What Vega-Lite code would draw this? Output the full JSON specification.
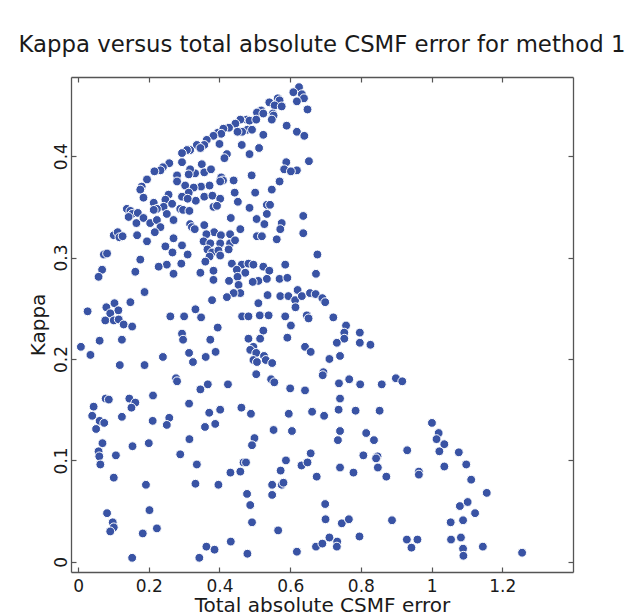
{
  "$schema": "https://vega.github.io/schema/vega-lite/v6.json",
  "width": 502,
  "height": 495,
  "autosize": {"type": "none"},
  "padding": {"left": 71, "top": 77, "right": 54, "bottom": 41},
  "background": "white",
  "title": {"text": "Kappa versus total absolute CSMF error for method 1", "fontSize": 22.8, "font": "DejaVu Sans", "fontWeight": "normal", "color": "#1a1a1a", "offset": 20},
  "datasets": {
    "pts": [
      {"e":0.625,"k":0.468},{"e":0.609,"k":0.463},{"e":0.633,"k":0.461},{"e":0.639,"k":0.457},{"e":0.619,"k":0.454},{"e":0.565,"k":0.457},{"e":0.570,"k":0.455},{"e":0.541,"k":0.453},{"e":0.556,"k":0.450},{"e":0.576,"k":0.449},{"e":0.649,"k":0.446},{"e":0.518,"k":0.445},{"e":0.506,"k":0.443},{"e":0.524,"k":0.442},{"e":0.551,"k":0.442},{"e":0.553,"k":0.440},{"e":0.548,"k":0.436},{"e":0.477,"k":0.436},{"e":0.459,"k":0.436},{"e":0.485,"k":0.435},{"e":0.504,"k":0.436},{"e":0.445,"k":0.432},{"e":0.427,"k":0.428},{"e":0.479,"k":0.426},{"e":0.492,"k":0.426},{"e":0.464,"k":0.424},{"e":0.451,"k":0.424},{"e":0.395,"k":0.423},{"e":0.411,"k":0.427},{"e":0.405,"k":0.422},{"e":0.383,"k":0.420},{"e":0.524,"k":0.421},{"e":0.590,"k":0.430},{"e":0.619,"k":0.424},{"e":0.640,"k":0.420},{"e":0.364,"k":0.416},{"e":0.400,"k":0.412},{"e":0.357,"k":0.411},{"e":0.336,"k":0.411},{"e":0.346,"k":0.408},{"e":0.463,"k":0.411},{"e":0.317,"k":0.406},{"e":0.308,"k":0.406},{"e":0.294,"k":0.403},{"e":0.512,"k":0.408},{"e":0.485,"k":0.402},{"e":0.421,"k":0.402},{"e":0.414,"k":0.398},{"e":0.653,"k":0.395},{"e":0.589,"k":0.394},{"e":0.583,"k":0.387},{"e":0.619,"k":0.386},{"e":0.602,"k":0.385},{"e":0.294,"k":0.394},{"e":0.258,"k":0.393},{"e":0.350,"k":0.392},{"e":0.331,"k":0.383},{"e":0.357,"k":0.384},{"e":0.376,"k":0.387},{"e":0.317,"k":0.387},{"e":0.313,"k":0.382},{"e":0.240,"k":0.389},{"e":0.233,"k":0.386},{"e":0.216,"k":0.385},{"e":0.570,"k":0.375},{"e":0.548,"k":0.367},{"e":0.405,"k":0.379},{"e":0.410,"k":0.376},{"e":0.402,"k":0.375},{"e":0.440,"k":0.376},{"e":0.491,"k":0.381},{"e":0.280,"k":0.381},{"e":0.303,"k":0.371},{"e":0.280,"k":0.375},{"e":0.195,"k":0.377},{"e":0.348,"k":0.370},{"e":0.327,"k":0.369},{"e":0.372,"k":0.371},{"e":0.180,"k":0.370},{"e":0.176,"k":0.367},{"e":0.185,"k":0.359},{"e":0.501,"k":0.364},{"e":0.443,"k":0.364},{"e":0.452,"k":0.355},{"e":0.313,"k":0.364},{"e":0.294,"k":0.360},{"e":0.256,"k":0.362},{"e":0.357,"k":0.360},{"e":0.380,"k":0.361},{"e":0.402,"k":0.358},{"e":0.383,"k":0.350},{"e":0.393,"k":0.351},{"e":0.333,"k":0.356},{"e":0.310,"k":0.358},{"e":0.485,"k":0.349},{"e":0.534,"k":0.352},{"e":0.543,"k":0.352},{"e":0.247,"k":0.357},{"e":0.242,"k":0.350},{"e":0.214,"k":0.354},{"e":0.223,"k":0.348},{"e":0.266,"k":0.353},{"e":0.289,"k":0.348},{"e":0.297,"k":0.347},{"e":0.315,"k":0.346},{"e":0.214,"k":0.347},{"e":0.138,"k":0.348},{"e":0.148,"k":0.346},{"e":0.153,"k":0.343},{"e":0.143,"k":0.340},{"e":0.169,"k":0.344},{"e":0.432,"k":0.339},{"e":0.534,"k":0.343},{"e":0.505,"k":0.338},{"e":0.637,"k":0.341},{"e":0.165,"k":0.334},{"e":0.185,"k":0.339},{"e":0.204,"k":0.334},{"e":0.223,"k":0.337},{"e":0.233,"k":0.330},{"e":0.251,"k":0.343},{"e":0.270,"k":0.337},{"e":0.317,"k":0.333},{"e":0.322,"k":0.330},{"e":0.357,"k":0.332},{"e":0.527,"k":0.333},{"e":0.576,"k":0.334},{"e":0.572,"k":0.328},
      {"e":0.101,"k":0.322},{"e":0.112,"k":0.325},{"e":0.117,"k":0.320},{"e":0.126,"k":0.321},
      {"e":0.167,"k":0.322},{"e":0.217,"k":0.325},{"e":0.459,"k":0.328},{"e":0.330,"k":0.328},{"e":0.637,"k":0.324},{"e":0.385,"k":0.325},{"e":0.404,"k":0.322},{"e":0.430,"k":0.323},{"e":0.363,"k":0.323},{"e":0.355,"k":0.316},{"e":0.374,"k":0.314},{"e":0.402,"k":0.314},{"e":0.430,"k":0.314},{"e":0.444,"k":0.317},{"e":0.506,"k":0.321},{"e":0.520,"k":0.321},{"e":0.562,"k":0.318},{"e":0.195,"k":0.316},{"e":0.270,"k":0.319},{"e":0.294,"k":0.312},{"e":0.247,"k":0.311},{"e":0.267,"k":0.305},{"e":0.366,"k":0.308},{"e":0.379,"k":0.305},{"e":0.397,"k":0.307},{"e":0.426,"k":0.308},{"e":0.402,"k":0.302},{"e":0.372,"k":0.301},{"e":0.360,"k":0.296},{"e":0.310,"k":0.303},{"e":0.073,"k":0.303},{"e":0.082,"k":0.304},{"e":0.176,"k":0.298},{"e":0.677,"k":0.303},{"e":0.435,"k":0.294},{"e":0.463,"k":0.293},{"e":0.482,"k":0.294},{"e":0.496,"k":0.293},{"e":0.524,"k":0.291},{"e":0.449,"k":0.288},{"e":0.251,"k":0.293},{"e":0.228,"k":0.291},{"e":0.292,"k":0.294},{"e":0.068,"k":0.288},{"e":0.058,"k":0.281},{"e":0.162,"k":0.286},{"e":0.270,"k":0.284},{"e":0.346,"k":0.285},{"e":0.383,"k":0.287},{"e":0.383,"k":0.278},{"e":0.473,"k":0.285},{"e":0.541,"k":0.287},{"e":0.534,"k":0.279},{"e":0.510,"k":0.277},{"e":0.494,"k":0.276},{"e":0.570,"k":0.279},{"e":0.586,"k":0.293},{"e":0.592,"k":0.280},{"e":0.673,"k":0.284},{"e":0.427,"k":0.277},{"e":0.451,"k":0.281},{"e":0.454,"k":0.273},{"e":0.188,"k":0.266},{"e":0.459,"k":0.265},{"e":0.440,"k":0.265},{"e":0.421,"k":0.261},{"e":0.379,"k":0.258},{"e":0.536,"k":0.263},{"e":0.510,"k":0.255},{"e":0.572,"k":0.262},{"e":0.595,"k":0.262},{"e":0.621,"k":0.268},{"e":0.614,"k":0.258},{"e":0.633,"k":0.262},{"e":0.615,"k":0.251},{"e":0.656,"k":0.265},{"e":0.672,"k":0.264},{"e":0.691,"k":0.260},{"e":0.699,"k":0.256},{"e":0.103,"k":0.255},{"e":0.080,"k":0.251},{"e":0.114,"k":0.248},{"e":0.091,"k":0.245},{"e":0.027,"k":0.247},{"e":0.148,"k":0.256},{"e":0.332,"k":0.249},{"e":0.261,"k":0.242},{"e":0.300,"k":0.242},{"e":0.348,"k":0.241},{"e":0.464,"k":0.242},{"e":0.482,"k":0.242},{"e":0.514,"k":0.243},{"e":0.539,"k":0.243},{"e":0.586,"k":0.242},{"e":0.647,"k":0.243},{"e":0.652,"k":0.240},{"e":0.077,"k":0.238},{"e":0.101,"k":0.238},{"e":0.115,"k":0.239},{"e":0.129,"k":0.234},{"e":0.153,"k":0.232},{"e":0.395,"k":0.231},{"e":0.294,"k":0.225},{"e":0.297,"k":0.219},{"e":0.524,"k":0.228},{"e":0.602,"k":0.233},{"e":0.061,"k":0.218},{"e":0.124,"k":0.219},{"e":0.374,"k":0.219},{"e":0.482,"k":0.220},{"e":0.515,"k":0.220},{"e":0.592,"k":0.221},{"e":0.008,"k":0.212},{"e":0.642,"k":0.212},{"e":0.496,"k":0.212},
      {"e":0.722,"k":0.241},{"e":0.758,"k":0.233},{"e":0.753,"k":0.226},{"e":0.753,"k":0.220},{"e":0.732,"k":0.216},{"e":0.797,"k":0.226},{"e":0.797,"k":0.216},{"e":0.827,"k":0.214},
      {"e":0.035,"k":0.204},{"e":0.118,"k":0.194},{"e":0.188,"k":0.194},{"e":0.240,"k":0.202},{"e":0.277,"k":0.181},{"e":0.280,"k":0.178},{"e":0.314,"k":0.206},{"e":0.325,"k":0.197},{"e":0.361,"k":0.202},{"e":0.389,"k":0.207},{"e":0.487,"k":0.209},{"e":0.504,"k":0.206},{"e":0.496,"k":0.199},{"e":0.506,"k":0.197},{"e":0.504,"k":0.185},{"e":0.526,"k":0.203},{"e":0.531,"k":0.199},{"e":0.549,"k":0.196},{"e":0.546,"k":0.180},{"e":0.555,"k":0.177},{"e":0.658,"k":0.207},{"e":0.600,"k":0.171},{"e":0.642,"k":0.169},{"e":0.346,"k":0.170},{"e":0.367,"k":0.175},{"e":0.424,"k":0.175},{"e":0.044,"k":0.153},{"e":0.040,"k":0.144},{"e":0.061,"k":0.139},{"e":0.074,"k":0.137},{"e":0.051,"k":0.131},{"e":0.078,"k":0.161},{"e":0.087,"k":0.160},{"e":0.145,"k":0.161},{"e":0.162,"k":0.157},{"e":0.151,"k":0.152},{"e":0.212,"k":0.164},{"e":0.124,"k":0.143},{"e":0.211,"k":0.139},{"e":0.258,"k":0.142},{"e":0.251,"k":0.135},{"e":0.314,"k":0.156},{"e":0.371,"k":0.147},{"e":0.359,"k":0.133},{"e":0.388,"k":0.136},{"e":0.402,"k":0.150},{"e":0.462,"k":0.152},{"e":0.489,"k":0.146},{"e":0.596,"k":0.146},{"e":0.662,"k":0.148},{"e":0.605,"k":0.129},{"e":0.553,"k":0.130},{"e":0.069,"k":0.117},{"e":0.058,"k":0.109},{"e":0.060,"k":0.104},{"e":0.063,"k":0.096},{"e":0.101,"k":0.083},{"e":0.107,"k":0.105},{"e":0.154,"k":0.114},{"e":0.200,"k":0.117},{"e":0.289,"k":0.106},{"e":0.315,"k":0.121},{"e":0.336,"k":0.096},{"e":0.332,"k":0.077},{"e":0.397,"k":0.076},{"e":0.431,"k":0.088},{"e":0.459,"k":0.089},{"e":0.468,"k":0.098},{"e":0.475,"k":0.098},{"e":0.499,"k":0.122},{"e":0.492,"k":0.115},{"e":0.478,"k":0.067},{"e":0.487,"k":0.056},{"e":0.492,"k":0.039},{"e":0.549,"k":0.076},{"e":0.549,"k":0.066},{"e":0.576,"k":0.076},{"e":0.581,"k":0.078},{"e":0.573,"k":0.090},{"e":0.588,"k":0.100},{"e":0.632,"k":0.095},{"e":0.649,"k":0.098},{"e":0.658,"k":0.107},{"e":0.675,"k":0.084},{"e":0.082,"k":0.048},{"e":0.098,"k":0.039},{"e":0.101,"k":0.034},{"e":0.091,"k":0.030},{"e":0.202,"k":0.051},{"e":0.223,"k":0.033},{"e":0.192,"k":0.076},{"e":0.183,"k":0.028},{"e":0.153,"k":0.004},{"e":0.343,"k":0.004},{"e":0.363,"k":0.015},{"e":0.386,"k":0.012},{"e":0.432,"k":0.020},{"e":0.479,"k":0.008},{"e":0.566,"k":0.031},{"e":0.619,"k":0.010},{"e":0.673,"k":0.015},
      {"e":0.741,"k":0.203},{"e":0.711,"k":0.200},{"e":0.694,"k":0.187},{"e":0.692,"k":0.184},{"e":0.738,"k":0.176},{"e":0.767,"k":0.180},{"e":0.798,"k":0.175},{"e":0.859,"k":0.175},{"e":0.899,"k":0.181},{"e":0.917,"k":0.178},{"e":0.741,"k":0.161},{"e":0.737,"k":0.150},{"e":0.785,"k":0.149},{"e":0.853,"k":0.149},{"e":0.696,"k":0.144},{"e":1.001,"k":0.137},{"e":0.741,"k":0.129},{"e":0.735,"k":0.120},{"e":0.815,"k":0.127},{"e":0.837,"k":0.120},{"e":1.020,"k":0.127},{"e":1.014,"k":0.121},{"e":1.036,"k":0.116},{"e":1.022,"k":0.109},{"e":0.931,"k":0.110},{"e":1.077,"k":0.108},{"e":0.807,"k":0.105},{"e":0.847,"k":0.104},{"e":0.843,"k":0.102},{"e":0.741,"k":0.093},{"e":0.779,"k":0.088},{"e":0.848,"k":0.093},{"e":0.872,"k":0.084},{"e":0.964,"k":0.089},{"e":0.964,"k":0.086},{"e":1.036,"k":0.094},{"e":1.098,"k":0.096},{"e":1.112,"k":0.081},{"e":1.156,"k":0.068},{"e":0.699,"k":0.057},{"e":0.700,"k":0.042},{"e":0.746,"k":0.038},{"e":0.766,"k":0.042},{"e":0.888,"k":0.041},{"e":1.080,"k":0.055},{"e":1.102,"k":0.059},{"e":1.123,"k":0.048},{"e":1.054,"k":0.039},{"e":1.089,"k":0.041},{"e":0.711,"k":0.024},{"e":0.733,"k":0.020},{"e":0.732,"k":0.015},{"e":0.691,"k":0.018},{"e":0.796,"k":0.025},{"e":0.930,"k":0.022},{"e":0.943,"k":0.014},{"e":0.960,"k":0.022},{"e":1.055,"k":0.022},{"e":1.083,"k":0.024},{"e":1.089,"k":0.013},{"e":1.090,"k":0.006},{"e":1.145,"k":0.015},{"e":1.256,"k":0.009}
    ]
  },
  "data": {"name": "pts"},
  "layer": [
    {
      "mark": {"type": "circle", "size": 78, "fill": "#3953a4", "fillOpacity": 1, "opacity": 1, "stroke": "white", "strokeWidth": 1},
      "encoding": {
        "x": {"field": "e", "type": "quantitative", "scale": {"domain": [-0.02, 1.4], "nice": false, "zero": false},
          "axis": {"orient": "bottom", "values": [0, 0.2, 0.4, 0.6, 0.8, 1, 1.2], "format": "~g", "title": "Total absolute CSMF error", "grid": false, "tickSize": -5, "labelPadding": 11, "titlePadding": 1}},
        "y": {"field": "k", "type": "quantitative", "scale": {"domain": [-0.01, 0.478], "nice": false, "zero": false},
          "axis": {"orient": "left", "values": [0, 0.1, 0.2, 0.3, 0.4], "format": "~g", "title": "Kappa", "grid": false, "tickSize": -5, "labelPadding": 10, "labelAngle": -90, "labelAlign": "center", "labelBaseline": "alphabetic", "titlePadding": 4}}
      }
    },
    {
      "mark": {"type": "circle", "opacity": 0},
      "encoding": {
        "x": {"field": "e", "type": "quantitative", "axis": {"orient": "top", "values": [0, 0.2, 0.4, 0.6, 0.8, 1, 1.2], "labels": false, "title": null, "grid": false, "tickSize": -5}},
        "y": {"field": "k", "type": "quantitative", "axis": {"orient": "right", "values": [0, 0.1, 0.2, 0.3, 0.4], "labels": false, "title": null, "grid": false, "tickSize": -5}}
      }
    }
  ],
  "resolve": {"axis": {"x": "independent", "y": "independent"}},
  "config": {
    "view": {"stroke": null},
    "font": "DejaVu Sans",
    "axis": {"domainColor": "#555555", "domainWidth": 1.3, "tickColor": "#555555", "tickWidth": 1.2, "labelFontSize": 17, "labelColor": "#1a1a1a", "labelFont": "DejaVu Sans", "titleFontSize": 20, "titleFontWeight": "normal", "titleColor": "#1a1a1a", "titleFont": "DejaVu Sans"}
  }
}
